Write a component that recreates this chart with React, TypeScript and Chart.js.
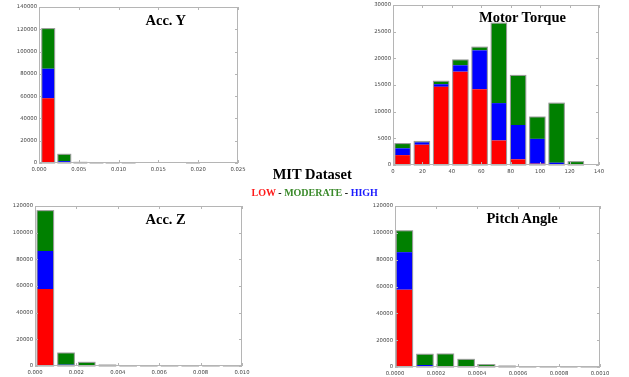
import React, { useEffect, useRef } from 'react';
import { Chart, registerables } from 'chart.js';

Chart.register(...registerables);

// ---------- DATA ----------
// Acc. Y
const accYBins = [0.00116, 0.00318, 0.0052, 0.00722, 0.00924, 0.01126, 0.01328, 0.0153, 0.01732, 0.01934];
const accYLow = [58000, 0, 0, 0, 0, 0, 0, 0, 0, 0];
const accYHigh = [26600, 1700, 200, 0, 0, 0, 0, 0, 0, 50];
const accYModerate = [36000, 6100, 400, 150, 100, 80, 0, 0, 0, 350];
const accYXTicks = { max: 0.025, step: 0.005, decimals: 3 };
const accYYTicks = { max: 140000, step: 20000 };

// Motor Torque
const torqueBins = [6.55, 19.63, 32.71, 45.79, 58.87, 71.95, 85.03, 98.11, 111.19, 124.27];
const torqueLow = [1850, 3800, 14660, 17500, 14200, 4600, 1060, 250, 0, 0];
const torqueHigh = [1280, 450, 490, 1200, 7300, 7000, 6440, 4650, 440, 0];
const torqueModerate = [880, 170, 550, 1000, 600, 15000, 9300, 4100, 11160, 620];
const torqueXTicks = { max: 140, step: 20, decimals: 0 };
const torqueYTicks = { max: 30000, step: 5000 };

// Acc. Z
const accZBins = [0.0005, 0.0015, 0.0025, 0.0035, 0.0045, 0.0055, 0.0065, 0.0075, 0.0085, 0.0095];
const accZLow = [57750, 0, 0, 0, 0, 0, 0, 0, 0, 0];
const accZHigh = [28500, 1000, 0, 0, 0, 0, 0, 0, 0, 0];
const accZModerate = [30250, 8750, 2750, 750, 300, 150, 100, 100, 50, 50];
const accZXTicks = { max: 0.01, step: 0.002, decimals: 3 };
const accZYTicks = { max: 120000, step: 20000 };

// Pitch Angle
const pitchBins = [0.000046, 0.000146, 0.000246, 0.000347, 0.000447, 0.000547, 0.000647, 0.000748, 0.000848, 0.000948];
const pitchLow = [57600, 0, 0, 0, 0, 0, 0, 0, 0, 0];
const pitchHigh = [28000, 1500, 0, 0, 0, 0, 0, 0, 0, 0];
const pitchModerate = [15900, 8000, 9700, 5700, 1750, 750, 250, 200, 150, 50];
const pitchXTicks = { max: 0.001, step: 0.0002, decimals: 4 };
const pitchYTicks = { max: 120000, step: 20000 };

// ---------- STYLE ----------
const RED = '#ff0000';
const BLUE = '#0000ff';
const GREEN = '#008000';
const FRAME = '#b5b5b5';
const OUTLINE = '#9a9a9a';
const TICK_TEXT = '#444444';

const YW = 40;
const PT = 6;
const PR = 14;
const XH = 16;

const framePlugin = {
  id: 'framePlugin',
  afterDatasetsDraw(chart: any) {
    const ctx = chart.ctx;
    const metas = chart.getSortedVisibleDatasetMetas();
    if (!metas.length) return;
    const n = metas[0].data.length;
    ctx.save();
    ctx.strokeStyle = OUTLINE;
    ctx.lineWidth = 1;
    for (let i = 0; i < n; i++) {
      let total = 0;
      let top = Infinity;
      let base = -Infinity;
      let x = 0;
      let w = 0;
      metas.forEach((m: any) => {
        const el = m.data[i];
        const raw = chart.data.datasets[m.index].data[i];
        total += raw.y;
        const p = el.getProps(['x', 'y', 'base', 'width'], true);
        top = Math.min(top, p.y, p.base);
        base = Math.max(base, p.y, p.base);
        x = p.x;
        w = p.width;
      });
      if (total <= 0) continue;
      const h = Math.max(base - top, 0.5);
      ctx.strokeRect(x - w / 2, base - h, w, h);
    }
    ctx.restore();
  },
  afterDraw(chart: any) {
    const { ctx, chartArea: a, scales } = chart;
    ctx.save();
    ctx.strokeStyle = FRAME;
    ctx.lineWidth = 1;
    ctx.strokeRect(a.left + 0.5, a.top + 0.5, a.right - a.left - 1, a.bottom - a.top - 1);
    const L = 3;
    ctx.beginPath();
    scales.x.ticks.forEach((t: any) => {
      const px = Math.round(scales.x.getPixelForValue(t.value)) + 0.5;
      ctx.moveTo(px, a.bottom);
      ctx.lineTo(px, a.bottom - L);
      ctx.moveTo(px, a.top);
      ctx.lineTo(px, a.top + L);
    });
    scales.y.ticks.forEach((t: any) => {
      const py = Math.round(scales.y.getPixelForValue(t.value)) + 0.5;
      ctx.moveTo(a.left, py);
      ctx.lineTo(a.left + L, py);
      ctx.moveTo(a.right, py);
      ctx.lineTo(a.right - L, py);
    });
    ctx.stroke();
    ctx.restore();
  },
};

type PanelProps = {
  left: number;
  top: number;
  right: number;
  bottom: number;
  bins: number[];
  low: number[];
  high: number[];
  moderate: number[];
  xt: { max: number; step: number; decimals: number };
  yt: { max: number; step: number };
};

function Panel(p: PanelProps) {
  const ref = useRef<HTMLCanvasElement | null>(null);
  const w = p.right - p.left + YW + PR;
  const h = p.bottom - p.top + PT + XH;
  useEffect(() => {
    if (!ref.current) return;
    const font = { family: 'DejaVu Sans', size: 5.3 };
    const mk = (vals: number[]) => p.bins.map((x, i) => ({ x, y: vals[i] }));
    const chart = new Chart(ref.current, {
      type: 'bar',
      data: {
        datasets: [
          { label: 'LOW', data: mk(p.low), backgroundColor: RED },
          { label: 'HIGH', data: mk(p.high), backgroundColor: BLUE },
          { label: 'MODERATE', data: mk(p.moderate), backgroundColor: GREEN },
        ],
      } as any,
      options: {
        animation: false,
        responsive: false,
        events: [],
        layout: { padding: { left: 0, top: PT, right: PR, bottom: 0 } },
        plugins: { legend: { display: false }, tooltip: { enabled: false }, title: { display: false } },
        datasets: { bar: { categoryPercentage: 1, barPercentage: 0.8, borderWidth: 0 } },
        scales: {
          x: {
            type: 'linear',
            stacked: true,
            offset: false,
            min: 0,
            max: p.xt.max,
            grid: { display: false, drawTicks: false, offset: false },
            border: { display: false },
            ticks: {
              stepSize: p.xt.step,
              autoSkip: false,
              maxRotation: 0,
              minRotation: 0,
              padding: 3,
              font,
              color: TICK_TEXT,
              callback: (v: any) => Number(v).toFixed(p.xt.decimals),
            },
            afterFit: (s: any) => {
              s.height = XH;
            },
          },
          y: {
            type: 'linear',
            stacked: true,
            min: 0,
            max: p.yt.max,
            grid: { display: false, drawTicks: false },
            border: { display: false },
            ticks: {
              stepSize: p.yt.step,
              autoSkip: false,
              padding: 2,
              font,
              color: TICK_TEXT,
              callback: (v: any) => String(Math.round(Number(v))),
            },
            afterFit: (s: any) => {
              s.width = YW;
            },
          },
        },
      } as any,
      plugins: [framePlugin],
    });
    return () => chart.destroy();
  }, []);
  return (
    <canvas
      ref={ref}
      width={w}
      height={h}
      style={{ position: 'absolute', left: p.left - YW, top: p.top - PT, width: w, height: h }}
    />
  );
}

const titleStyle: React.CSSProperties = {
  position: 'absolute',
  fontFamily: '"Liberation Serif", "DejaVu Serif", serif',
  fontWeight: 'bold',
  fontSize: 14.5,
  lineHeight: 1,
  whiteSpace: 'nowrap',
  color: '#000',
};

export default function App() {
  return (
    <div style={{ position: 'absolute', left: 0, top: 0, width: 629, height: 377, overflow: 'hidden', background: '#fff' }}>
      <Panel left={39} top={7} right={238} bottom={163} bins={accYBins} low={accYLow} high={accYHigh} moderate={accYModerate} xt={accYXTicks} yt={accYYTicks} />
      <Panel left={393} top={5} right={599} bottom={165} bins={torqueBins} low={torqueLow} high={torqueHigh} moderate={torqueModerate} xt={torqueXTicks} yt={torqueYTicks} />
      <Panel left={35} top={206} right={242} bottom={366} bins={accZBins} low={accZLow} high={accZHigh} moderate={accZModerate} xt={accZXTicks} yt={accZYTicks} />
      <Panel left={395} top={206} right={600} bottom={367} bins={pitchBins} low={pitchLow} high={pitchHigh} moderate={pitchModerate} xt={pitchXTicks} yt={pitchYTicks} />

      <div style={{ ...titleStyle, left: 145.5, top: 12.9 }}>Acc. Y</div>
      <div style={{ ...titleStyle, left: 479, top: 9.6 }}>Motor Torque</div>
      <div style={{ ...titleStyle, left: 145.5, top: 211.9 }}>Acc. Z</div>
      <div style={{ ...titleStyle, left: 486.5, top: 211.2 }}>Pitch Angle</div>

      <div style={{ ...titleStyle, left: 312.2, top: 166.9, transform: 'translateX(-50%)' }}>MIT Dataset</div>
      <div style={{ ...titleStyle, fontSize: 10, left: 314.7, top: 188.3, transform: 'translateX(-50%)' }}>
        <span style={{ color: '#ff1a1a' }}>LOW</span>
        <span> - </span>
        <span style={{ color: '#3a8a2a' }}>MODERATE</span>
        <span> - </span>
        <span style={{ color: '#1a1aff' }}>HIGH</span>
      </div>
    </div>
  );
}
